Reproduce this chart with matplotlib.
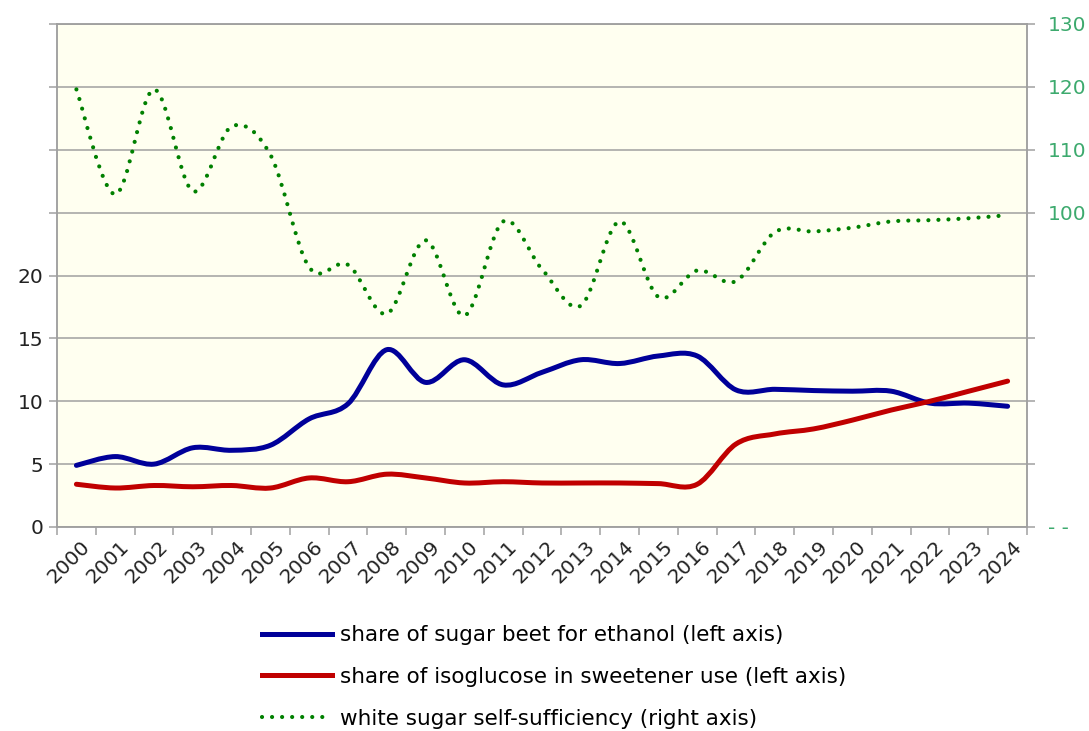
import numpy as np
import matplotlib.pyplot as plt
import matplotlib.transforms as mtransforms
from matplotlib.path import Path
from matplotlib.patches import PathPatch
from matplotlib.lines import Line2D

years = [str(y) for y in range(2000, 2025)]
beet_ethanol = [4.9, 5.6, 5.0, 6.3, 6.1, 6.5, 8.6, 9.8, 14.1, 11.5, 13.3, 11.3, 12.3,
                13.3, 13.0, 13.6, 13.6, 10.9, 10.95, 10.85, 10.8, 10.8, 9.85, 9.85, 9.6]
isoglucose = [3.4, 3.1, 3.3, 3.2, 3.3, 3.1, 3.9, 3.6, 4.2, 3.9, 3.5, 3.6, 3.5,
              3.5, 3.5, 3.45, 3.4, 6.6, 7.4, 7.8, 8.5, 9.3, 10.0, 10.8, 11.6]
self_sufficiency = [119.6, 102.9, 119.6, 103.4, 113.7, 109.2, 91.3, 91.7, 83.9, 95.6, 83.6, 98.6, 91.0,
                    85.2, 98.6, 86.6, 90.8, 89.1, 96.9, 97.0, 97.6, 98.6, 98.8, 99.1, 99.6]
left_labels = ['0', '5', '10', '15', '20', '', '', '', '']
right_labels = ['- -', '', '', '', '', '100', '110', '120', '130']

names = ['share of sugar beet for ethanol (left axis)',
         'share of isoglucose in sweetener use (left axis)',
         'white sugar self-sufficiency (right axis)']

BLUE = '#000099'
RED = '#C00000'
GREEN = '#008000'
GRID = '#A0A0A0'
RLAB = '#3DAA6E'


def smooth_path(values):
    # Excel-style smoothed line: cubic Bezier segments through every point
    y = np.asarray(values, float)
    x = np.arange(len(y), dtype=float)
    p = np.column_stack([x, y])
    ext = np.vstack([p[0], p, p[-1]])
    verts = [p[0]]
    codes = [Path.MOVETO]
    for i in range(len(p) - 1):
        p0, p1, p2, p3 = ext[i], ext[i + 1], ext[i + 2], ext[i + 3]
        verts += [p1 + (p2 - p0) / 6, p2 - (p3 - p1) / 6, p2]
        codes += [Path.CURVE4] * 3
    return Path(verts, codes)


fig = plt.figure(figsize=(10.89, 7.31), dpi=100)
ax = fig.add_axes([57 / 1089, 1 - 527 / 731, 970 / 1089, 503 / 731])
ax.set_facecolor('#FFFFF0')
ax2 = ax.twinx()

ax.set_xlim(-0.5, 24.5)
ax.set_ylim(0, 40)
ax2.set_ylim(50, 130)

lw_main = 3.6
lw_dot = 3.0
dots = (0, (0.01, 2.4))

ax.add_patch(PathPatch(smooth_path(beet_ethanol), fill=False, edgecolor=BLUE,
                       lw=lw_main, capstyle='round', joinstyle='round', zorder=3))
ax.add_patch(PathPatch(smooth_path(isoglucose), fill=False, edgecolor=RED,
                       lw=lw_main, capstyle='round', joinstyle='round', zorder=3))
green = PathPatch(smooth_path(self_sufficiency), fill=False, edgecolor=GREEN,
                  lw=lw_dot, linestyle=dots, zorder=3)
green.set_capstyle('round')
ax2.add_patch(green)

# grid & spines
ax.set_yticks(np.arange(0, 41, 5))
ax.set_yticklabels(left_labels)
ax.yaxis.grid(True, color=GRID, lw=1.1)
ax.set_axisbelow(True)
ax2.set_yticks(np.arange(50, 131, 10))
ax2.set_yticklabels(right_labels)
for a in (ax, ax2):
    for s in a.spines.values():
        s.set_color(GRID)
        s.set_linewidth(1.1)

ax.tick_params(axis='y', length=6, width=1.1, color=GRID, labelsize=14.5,
               labelcolor='#222222', pad=4)
ax2.tick_params(axis='y', length=6, width=1.1, color=GRID, labelsize=14.5,
                labelcolor=RLAB, pad=9)

ax.set_xticks(range(len(years)))
ax.set_xticks(np.arange(-0.5, len(years)), minor=True)
ax.set_xticklabels(years, rotation=45, ha='right', va='center',
                   rotation_mode='anchor')
ax.tick_params(axis='x', which='major', length=0, labelsize=14.5,
               labelcolor='#222222', pad=12)
ax.tick_params(axis='x', which='minor', length=6, width=1.1, color=GRID)
shift = mtransforms.ScaledTranslation(8 / 72, 0, fig.dpi_scale_trans)
for lab in ax.get_xticklabels():
    lab.set_transform(lab.get_transform() + shift)

handles = [Line2D([], [], color=BLUE, lw=lw_main),
           Line2D([], [], color=RED, lw=lw_main),
           Line2D([], [], color=GREEN, lw=lw_dot, linestyle=dots,
                  dash_capstyle='round')]
fig.legend(handles, names, loc='center left',
           bbox_to_anchor=(262 / 1089, 1 - 677 / 731),
           bbox_transform=fig.transFigure, frameon=False, fontsize=15.5,
           handlelength=3.25, handletextpad=0.37, labelspacing=1.0,
           borderpad=0, borderaxespad=0)

fig.savefig('out.png', dpi=100, facecolor='white')
